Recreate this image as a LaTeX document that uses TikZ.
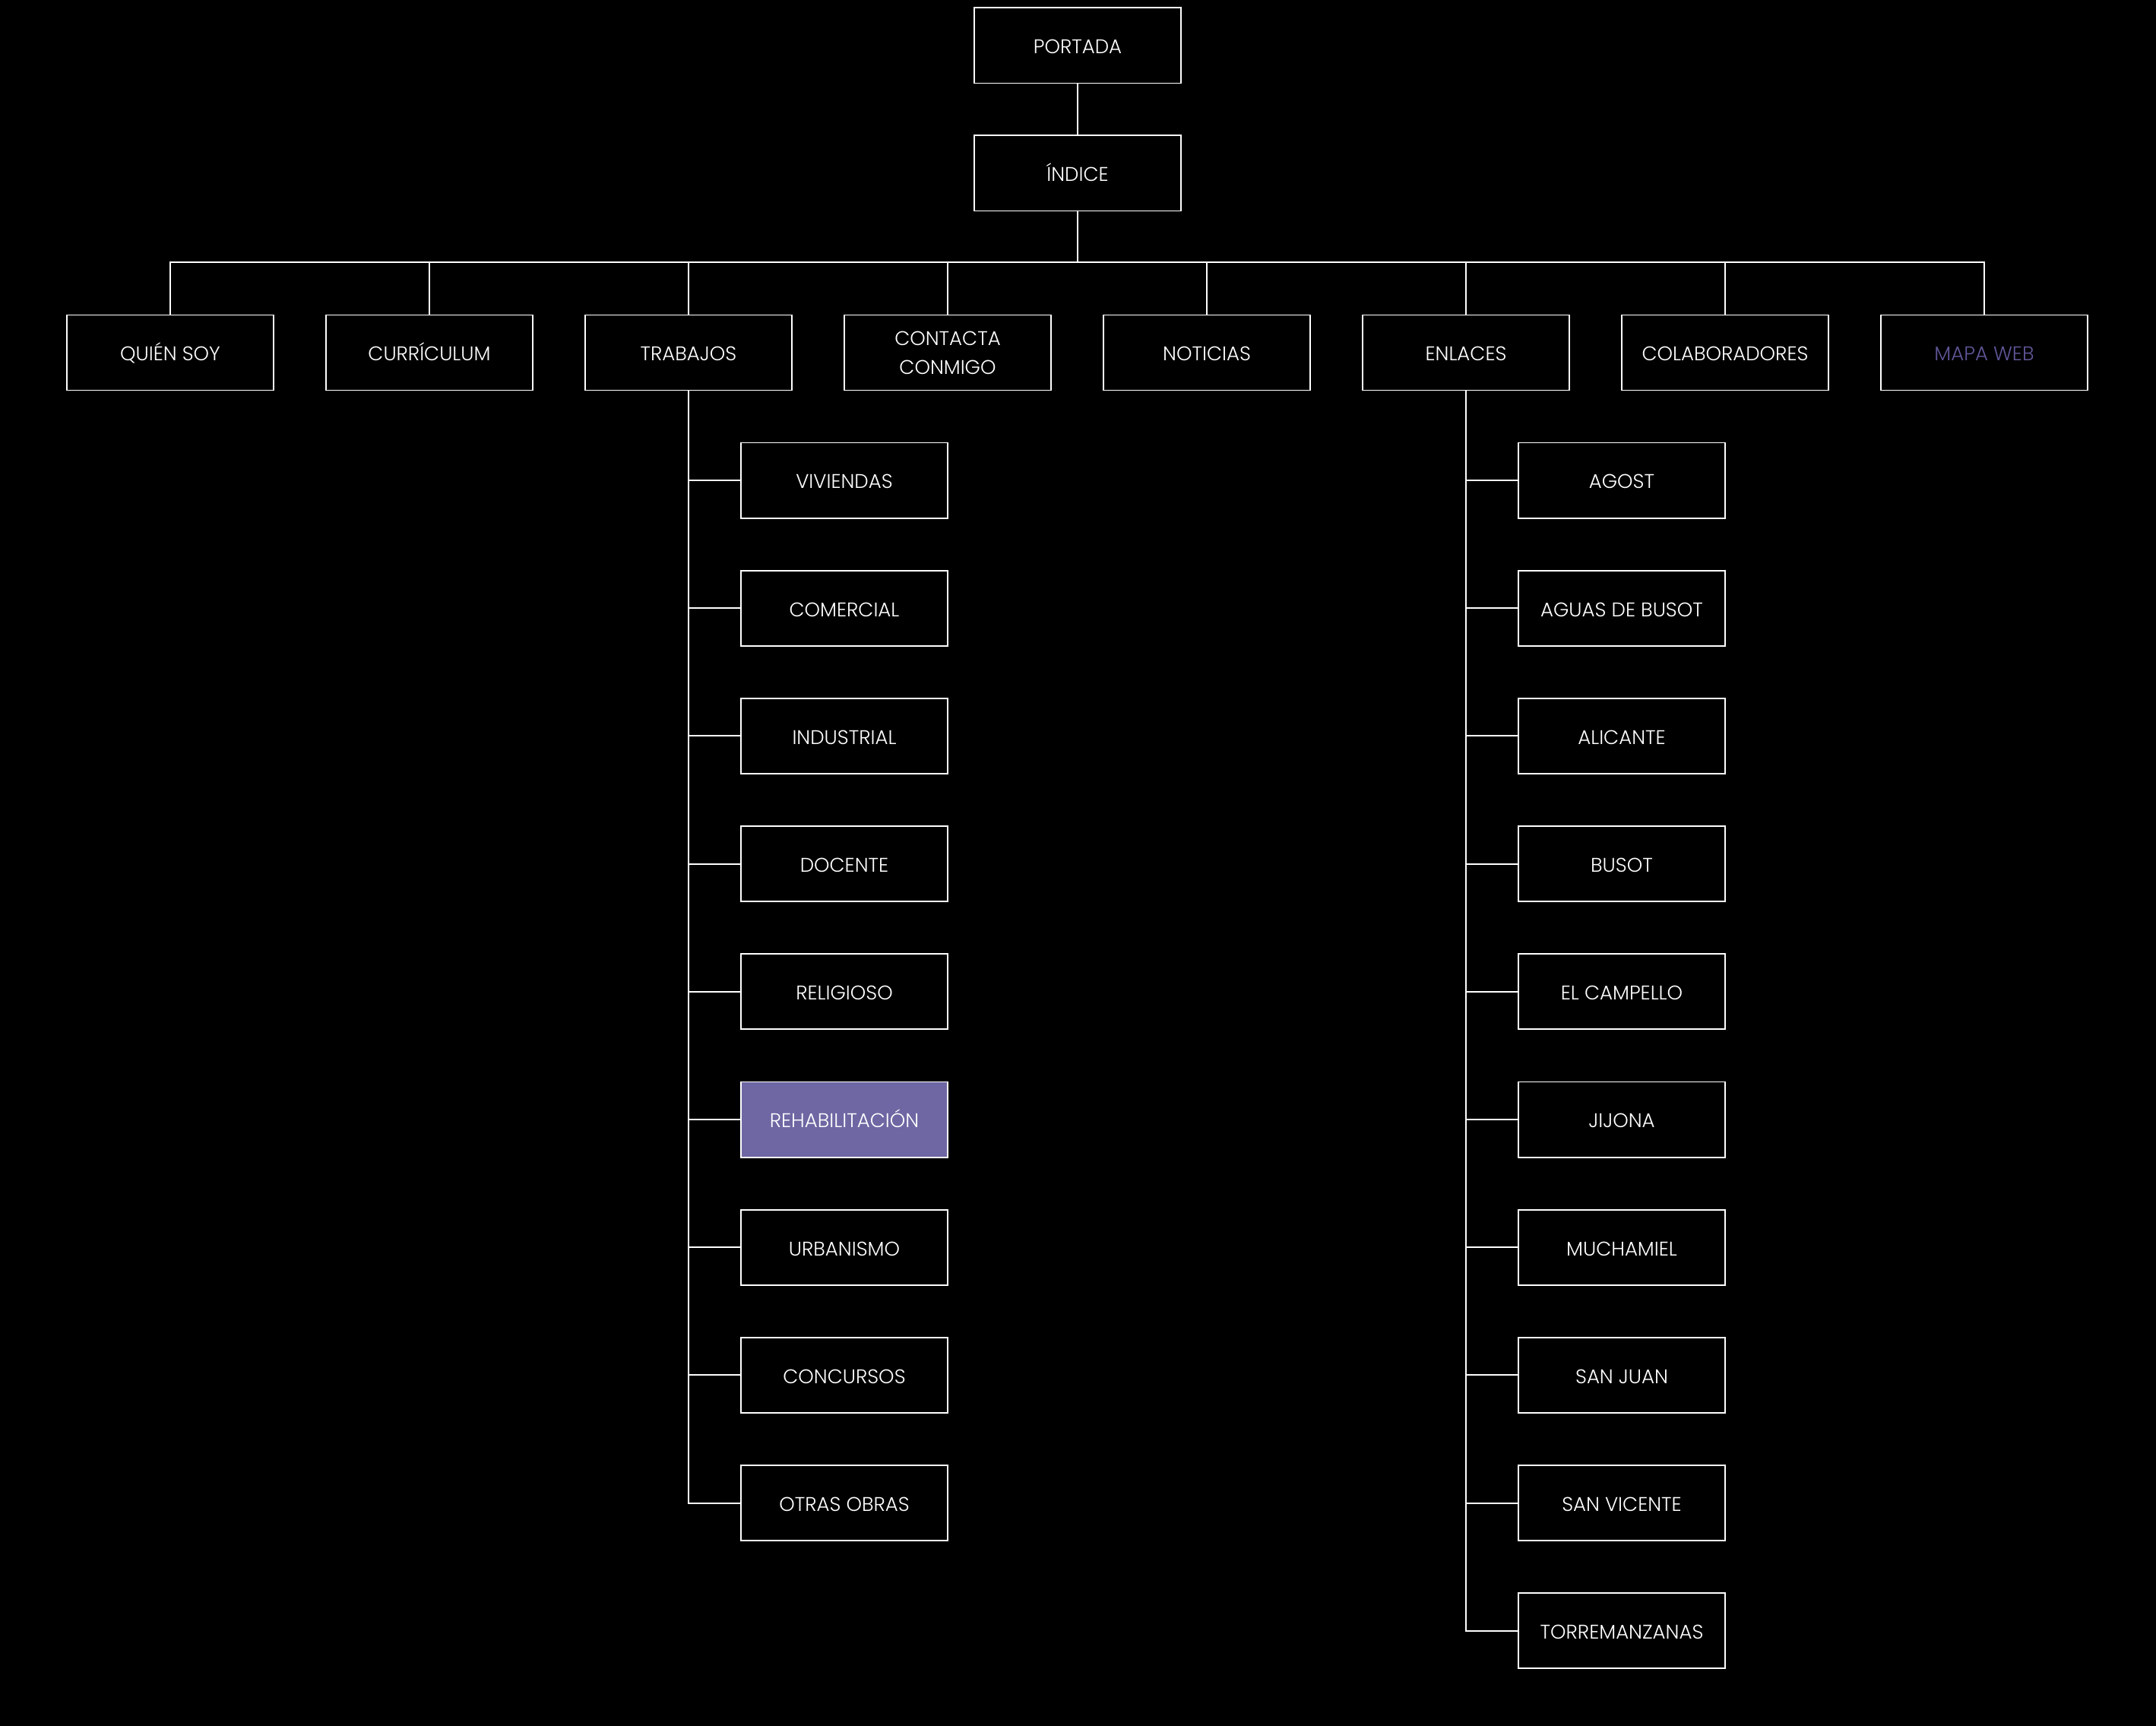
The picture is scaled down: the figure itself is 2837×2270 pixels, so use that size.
\documentclass[tikz,border=0pt]{standalone}
\usepackage{fontspec}
\setmainfont{Poppins Light}
\definecolor{purp}{HTML}{6E67A3}
\definecolor{purptext}{HTML}{5F5799}
\begin{document}
\begin{tikzpicture}[x=0.01cm,y=-0.01cm,line width=0.55pt,
  box/.style={draw=white,text=white,minimum width=2.71cm,minimum height=0.99cm,
    inner sep=0pt,align=center,text height=6.8pt,text depth=0.6pt,font=\fontsize{7.4}{10.8}\selectfont},
  hl/.style={box,fill=purp},
  link/.style={draw=white,line width=0.55pt}]
\useasboundingbox (0,0) rectangle (2837,2270);
\fill[black] (-20,-20) rectangle (2857,2290);

\node[box] (portada) at (1418,60) {PORTADA};
\node[box] (indice) at (1418,228) {ÍNDICE};
\draw[link] (portada.south) -- (indice.north);
\coordinate (bar) at (1418,345);
\draw[link] (indice.south) -- (bar);

\node[box] (quien) at (224,464) {QUIÉN SOY};
\node[box] (curri) at (565,464) {CURRÍCULUM};
\node[box] (trab) at (906,464) {TRABAJOS};
\node[box,text height=,text depth=] (cont) at (1247,464) {CONTACTA\\CONMIGO};
\node[box] (noti) at (1588,464) {NOTICIAS};
\node[box] (enl) at (1929,464) {ENLACES};
\node[box] (colab) at (2270,464) {COLABORADORES};
\node[box,text=purptext] (mapa) at (2611,464) {MAPA WEB};
\foreach \n in {quien,curri,trab,cont,noti,enl,colab,mapa}
  \draw[link] (bar) -| (\n.north);

\foreach [count=\i] \lbl/\st in {VIVIENDAS/box,COMERCIAL/box,INDUSTRIAL/box,DOCENTE/box,RELIGIOSO/box,REHABILITACIÓN/hl,URBANISMO/box,CONCURSOS/box,OTRAS OBRAS/box}{
  \node[\st] (t\i) at (1111,{632+168.2*(\i-1)}) {\lbl};
  \draw[link] (trab.south) |- (t\i.west);
}
\foreach [count=\i] \lbl in {AGOST,AGUAS DE BUSOT,ALICANTE,BUSOT,EL CAMPELLO,JIJONA,MUCHAMIEL,SAN JUAN,SAN VICENTE,TORREMANZANAS}{
  \node[box] (e\i) at (2134,{632+168.2*(\i-1)}) {\lbl};
  \draw[link] (enl.south) |- (e\i.west);
}
\end{tikzpicture}
\end{document}
